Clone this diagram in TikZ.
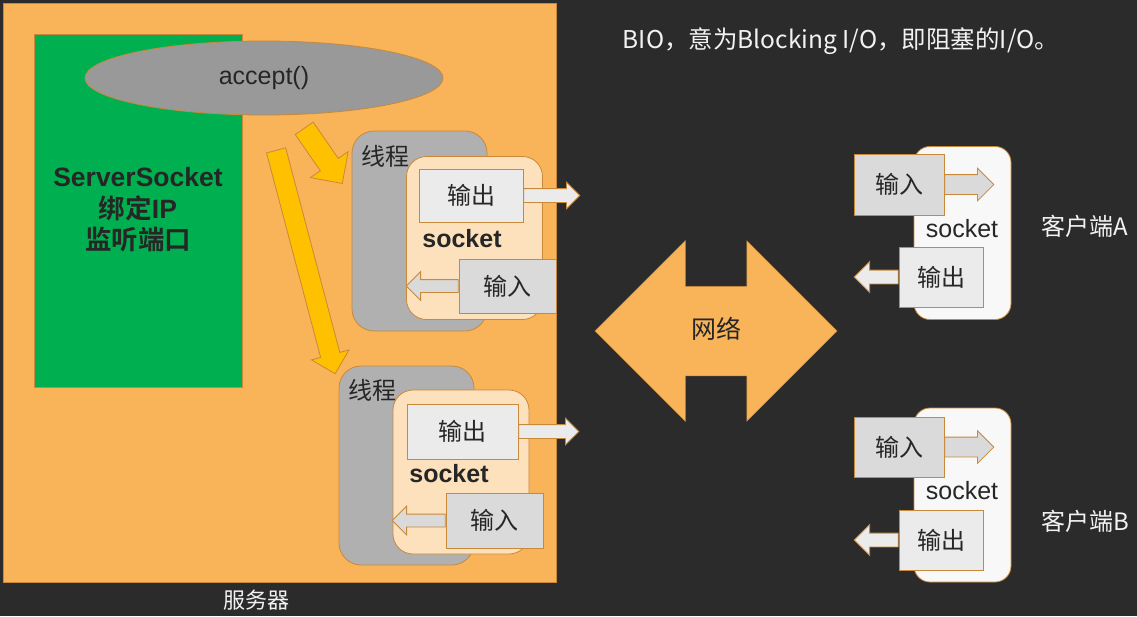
\documentclass[tikz,border=0pt]{standalone}
\usepackage{fontspec}
\setmainfont{Liberation Sans}
\newfontfamily\cjk[BoldFont={Noto Sans CJK SC Bold}]{Noto Sans CJK SC}
\usetikzlibrary{shapes.geometric,shapes.arrows,positioning}

\definecolor{bgdark}{HTML}{2B2B2B}
\definecolor{srvorange}{HTML}{F9B45A}
\definecolor{edgeorange}{HTML}{C8893B}
\definecolor{ssgreen}{HTML}{00B050}
\definecolor{ellgray}{HTML}{999999}
\definecolor{thgray}{HTML}{B0B0B0}
\definecolor{sockfill}{HTML}{FDE0BC}
\definecolor{outfill}{HTML}{EBEBEB}
\definecolor{infill}{HTML}{DADADA}
\definecolor{clientfill}{HTML}{F8F8F8}
\definecolor{ayellow}{HTML}{FFC000}
\definecolor{textdark}{HTML}{262626}
\definecolor{textlight}{HTML}{F2F2F2}

\tikzset{
  box/.style={draw=edgeorange,line width=0.8pt,inner sep=0pt},
  threadbox/.style={box,fill=thgray,rounded corners=22pt,minimum width=135,minimum height=198},
  sockbox/.style={box,fill=sockfill,rounded corners=20pt,minimum width=136,minimum height=163},
  clientbox/.style={box,fill=clientfill,rounded corners=16pt,minimum width=97,minimum height=173},
  outbox/.style={box,fill=outfill,text=textdark,font=\cjk\fontsize{24}{28}\selectfont},
  inbox/.style={box,fill=infill,text=textdark,font=\cjk\fontsize{24}{28}\selectfont},
  % #1 half shaft, #2 head extend
  fatarrow/.style 2 args={box,single arrow,anchor=tail,inner xsep=0pt,inner ysep=#1,
    text height=0pt,text depth=0pt,single arrow head extend=#2},
  darklabel/.style={text=textdark,font=\cjk\fontsize{24}{28}\selectfont},
  lightlabel/.style={text=textlight,font=\cjk\fontsize{24}{28}\selectfont},
}

\begin{document}
\begin{tikzpicture}[x=1pt,y=-1pt,font=\fontsize{24}{28}\selectfont]
	
		\fill[bgdark] (0,0) rectangle (1137,616);
		
		% server side
		\node[box,fill=srvorange,minimum width=553,minimum height=579] (srv) at (279.5,292.5) {};
		\node[box,fill=ssgreen,minimum width=208,minimum height=353] (ss) at (138,210.5) {};
		\node[text=textdark,align=center,font=\fontsize{26.5}{31.5}\selectfont\bfseries] (sstext) at (138,210)
			{ServerSocket\\{\cjk 绑定}IP\\{\cjk 监听端口}};
		\node[box,ellipse,fill=ellgray,text=textdark,font=\fontsize{25}{28}\selectfont,
			minimum width=358,minimum height=74] (acc) at (264,78) {accept()};
		
		\node[threadbox,minimum height=200] (th1) at (419.5,231) {};
		\node[darklabel] (th1l) at (385.5,156) {线程};
		\node[sockbox] (so1) at (474.5,238) {};
		\node[text=textdark,font=\fontsize{25}{28}\selectfont\bfseries] (so1l) at (462,239) {socket};
		\node[outbox,minimum width=104,minimum height=53] (o1) at (471,195.5) {输出};
		\node[inbox,minimum width=97,minimum height=54] (i1) at (507.5,286) {输入};
		\node[fatarrow={6.5}{6.5},fill=outfill,minimum height=56] (o1a) at (o1.east) {};
		\node[fatarrow={6}{8},fill=infill,minimum height=52,rotate=180] (i1a) at (i1.west) {};
		
		\node[threadbox,minimum height=199] (th2) at (406.5,465.5) {};
		\node[darklabel] (th2l) at (372.5,390) {线程};
		\node[sockbox,minimum height=164] (so2) at (461,472) {};
		\node[text=textdark,font=\fontsize{25}{28}\selectfont\bfseries] (so2l) at (449,474) {socket};
		\node[outbox,minimum width=111,minimum height=55] (o2) at (462.5,431.5) {输出};
		\node[inbox,minimum width=97,minimum height=55] (i2) at (494.5,520.5) {输入};
		\node[fatarrow={6.5}{6.5},fill=outfill,minimum height=60] (o2a) at (o2.east) {};
		\node[fatarrow={6}{8},fill=infill,minimum height=53,rotate=180] (i2a) at (i2.west) {};
		
		% accept hands the sockets to the threads
		\coordinate (y1s) at (304,128);
		\coordinate (y2s) at (276,150);
		\node[fatarrow={10.5}{12},fill=ayellow,minimum height=67,rotate=-55.36] (ya1) at (y1s) {};
		\node[fatarrow={9.5}{9.5},fill=ayellow,minimum height=231,rotate=-75.18] (ya2) at (y2s) {};
		
		\node[lightlabel,font=\cjk\fontsize{22}{26}\selectfont] (srvl) at (256,600) {服务器};
		
		% network
		\node[double arrow,fill=srvorange,draw=edgeorange,line width=0.5pt,inner xsep=0pt,inner ysep=32pt,
			text height=20pt,text depth=5pt,minimum height=242,double arrow head extend=45.5,
			text=textdark,font=\cjk\fontsize{25}{28}\selectfont] (net) at (716,331) {网络};
		
		% clients
		\node[clientbox] (ca) at (962.5,233) {};
		\node[text=textdark,font=\fontsize{25}{28}\selectfont] (cal) at (962,229) {socket};
		\node[inbox,minimum width=90,minimum height=61] (ia) at (899,184.5) {输入};
		\node[outbox,minimum width=84,minimum height=60] (oa) at (941,277) {输出};
		\node[fatarrow={9.5}{6.5},fill=infill,minimum height=49] (iaa) at (ia.east) {};
		\node[fatarrow={6.5}{8.5},fill=outfill,minimum height=44,rotate=180] (oaa) at (oa.west) {};
		\node[lightlabel] (can) at (1085,226) {客户端A};
		
		\node[clientbox,minimum height=174] (cb) at (962.5,495) {};
		\node[text=textdark,font=\fontsize{25}{28}\selectfont] (cbl) at (962,491) {socket};
		\node[inbox,minimum width=90,minimum height=60] (ib) at (899,447) {输入};
		\node[outbox,minimum width=84,minimum height=60] (ob) at (941,540) {输出};
		\node[fatarrow={9.5}{6.5},fill=infill,minimum height=49] (iba) at (ib.east) {};
		\node[fatarrow={6.5}{8.5},fill=outfill,minimum height=44,rotate=180] (oba) at (ob.west) {};
		\node[lightlabel] (cbn) at (1085,521) {客户端B};
		
		\node[lightlabel,font=\cjk\fontsize{24.5}{28}\selectfont] (title) at (841,41) {BIO，意为Blocking I/O，即阻塞的I/O。};
	
\end{tikzpicture}
\end{document}
